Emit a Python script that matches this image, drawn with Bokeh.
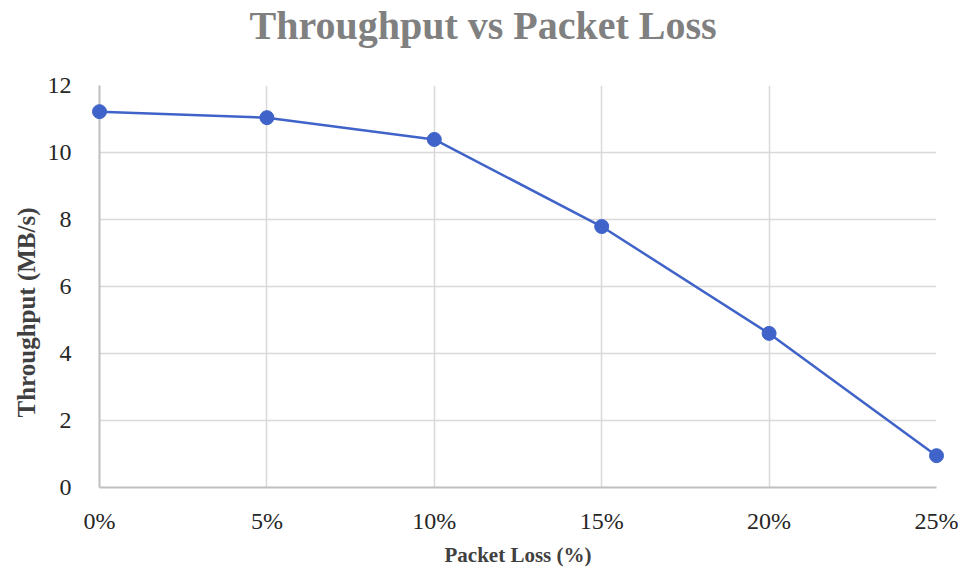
from bokeh.plotting import figure
from bokeh.models import FixedTicker, Range1d, Title
from bokeh.embed import file_html
from bokeh.resources import INLINE

packet_loss = [0, 5, 10, 15, 20, 25]
tick_labels = ["0%", "5%", "10%", "15%", "20%", "25%"]
throughput = [11.22, 11.04, 10.39, 7.79, 4.6, 0.95]
y_ticks = [0, 2, 4, 6, 8, 10, 12]

SERIF = "Liberation Serif"

p = figure(width=965, height=569, output_backend="svg", toolbar_location=None,
           x_range=Range1d(0, 25), y_range=Range1d(0, 12),
           min_border_left=99, min_border_right=29, min_border_bottom=82, min_border_top=85)

spacer = Title(text=" ", text_font_size="1px", standoff=35)
p.add_layout(spacer, "above")

t = Title(text="Throughput vs Packet Loss", align="left", offset=150,
          text_font=SERIF, text_font_size="40px", text_font_style="bold",
          text_color="#808080", standoff=0)
p.add_layout(t, "above")

yt = Title(text="Throughput (MB/s)", align="left", offset=70,
           text_font=SERIF, text_font_size="25px", text_font_style="bold",
           text_color="#404040", standoff=10)
p.add_layout(yt, "left")

p.line(packet_loss, throughput, line_color="#3f63c8", line_width=2.5, level="overlay")
p.scatter(packet_loss, throughput, size=14, fill_color="#3f63c8", line_color="#3f63c8",
          level="overlay")

p.xaxis.ticker = FixedTicker(ticks=packet_loss)
p.xaxis.major_label_overrides = {v: l for v, l in zip(packet_loss, tick_labels)}
p.yaxis.ticker = FixedTicker(ticks=y_ticks)

for ax in (p.xaxis[0], p.yaxis[0]):
    ax.major_tick_line_color = None
    ax.minor_tick_line_color = None
    ax.axis_line_color = "#bfbfbf"
    ax.axis_line_width = 2
    ax.major_label_text_font = SERIF
    ax.major_label_text_font_size = "24px"
    ax.major_label_text_color = "#262626"
    ax.axis_label_text_font = SERIF
    ax.axis_label_text_font_style = "bold"
    ax.axis_label_text_color = "#404040"

p.xaxis.axis_label = "Packet Loss (%)"
p.xaxis.axis_label_text_font_size = "21px"
p.xaxis.major_label_standoff = 14
p.xaxis.axis_label_standoff = 6
p.yaxis.major_label_standoff = 22

p.xgrid.ticker = FixedTicker(ticks=packet_loss)
p.ygrid.ticker = FixedTicker(ticks=y_ticks)
p.grid.grid_line_color = "#d9d9d9"
p.grid.grid_line_width = 1.5
p.outline_line_color = None
p.background_fill_color = "white"
p.border_fill_color = "white"

open("out.html", "w").write(file_html(p, INLINE))
